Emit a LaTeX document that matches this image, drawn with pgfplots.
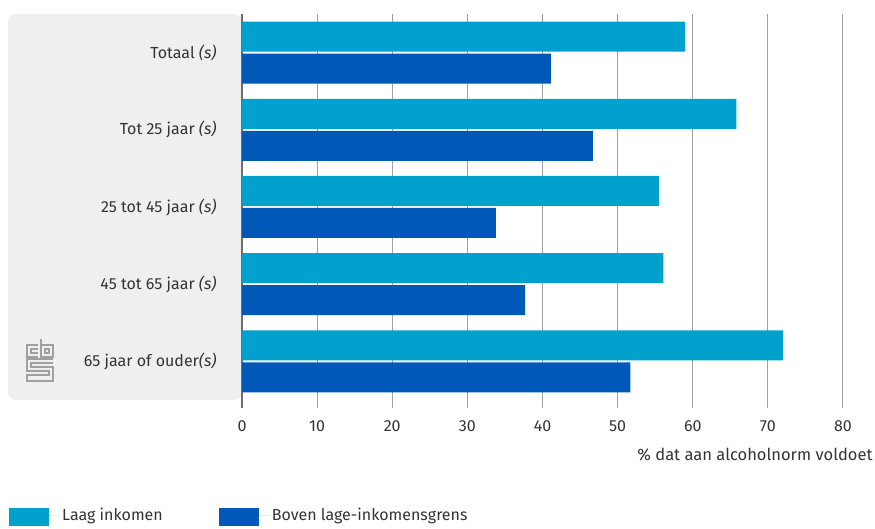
\documentclass[border=0pt]{standalone}
\usepackage{pgfplots}
\pgfplotsset{compat=1.18}
\usepackage{fontspec}
\setmainfont{Fira Sans}
\definecolor{lightb}{HTML}{00A1CD}
\definecolor{darkb}{HTML}{0058B8}
\definecolor{panel}{HTML}{EFEFEF}
\definecolor{txt}{HTML}{333333}
\definecolor{gridc}{HTML}{A0A0A0}
\definecolor{axisc}{HTML}{6E6E6E}
\begin{document}
\begin{tikzpicture}[x=1pt,y=1pt]
\path[use as bounding box] (0,0) rectangle (875,529);
\fill[panel, rounded corners=8pt] (8,129) rectangle (242,515);
% cbs logo
\begin{scope}[draw=gridc, line width=1.3pt, yscale=-1, yshift=-529pt]
\draw (38,345) -- (27,345) -- (27,357) -- (38,357);
\draw (38,349) -- (31,349) -- (31,353) -- (38,353);
\draw (41,339) -- (41,357) -- (53,357) -- (53,345) -- (41,345);
\draw (45,349) rectangle (49,353);
\draw (53,359) -- (27,359) -- (27,371) -- (49,371) -- (49,375) -- (27,375) -- (27,381) -- (53,381) -- (53,367) -- (31,367) -- (31,363) -- (53,363);
\end{scope}
\begin{axis}[
  at={(242pt,129pt)}, anchor=south west,
  scale only axis, width=601pt, height=386pt,
  xbar, bar width=30pt,
  xmin=0, xmax=80, ymin=-0.5, ymax=4.5,
  xtick={0,10,...,80},
  ytick={0,1,2,3,4},
  yticklabels={65 jaar of ouder\textit{(s)}, 45 tot 65 jaar \textit{(s)}, 25 tot 45 jaar \textit{(s)}, Tot 25 jaar \textit{(s)}, Totaal \textit{(s)}},
  /pgf/number format/assume math mode=true,
  axis x line*=bottom, axis y line*=left,
  x axis line style={draw=none},
  y axis line style={draw=axisc, line width=2.5pt, shorten <=-8pt},
  tick align=outside,
  major tick length=8pt,
  xtick style={draw=gridc, line width=1pt},
  ytick style={draw=none},
  xmajorgrids, grid style={draw=gridc, line width=1pt},
  tick label style={font=\fontsize{16}{18}\selectfont, text=txt},
  yticklabel style={xshift=-14pt},
  xticklabel style={yshift=-9pt},
  xlabel={\% dat aan alcoholnorm voldoet},
  xlabel style={at={(rel axis cs:1,0)}, anchor=base east, xshift=33pt, yshift=-61pt, font=\fontsize{16.5}{18}\selectfont, text=txt},
  legend columns=2,
  legend style={draw=none, fill=none, at={(rel axis cs:0,0)}, anchor=north west, xshift=-236pt, yshift=-104pt, font=\fontsize{16}{18}\selectfont, text=txt, /tikz/every even column/.append style={column sep=54pt}},
  legend image code/.code={\fill[#1] (0pt,-11pt) rectangle (40pt,7pt); \path (0pt,0pt) -- (51pt,0pt);},
  clip=false,
]
\addplot[fill=lightb, draw=none, bar shift=16pt] coordinates {(72.0,0) (56.1,1) (55.5,2) (65.8,3) (59.0,4)};
\addplot[fill=darkb, draw=none, bar shift=-16pt] coordinates {(51.7,0) (37.7,1) (33.8,2) (46.7,3) (41.1,4)};
\legend{Laag inkomen, Boven lage-inkomensgrens}
\end{axis}
\end{tikzpicture}
\end{document}
